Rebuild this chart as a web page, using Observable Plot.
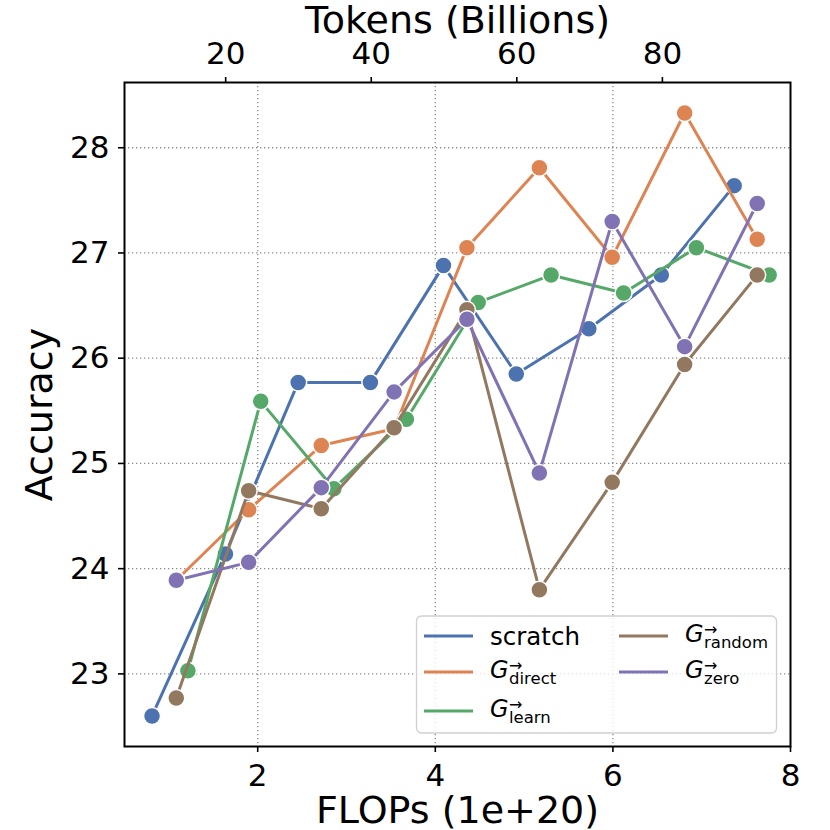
<!DOCTYPE html>
<html>
<head>
<meta charset="utf-8">
<script src="https://cdn.jsdelivr.net/npm/d3@7"></script>
<script src="https://cdn.jsdelivr.net/npm/@observablehq/plot@0.6"></script>
<style>
  html, body { margin: 0; padding: 0; background: white; }
  #chart svg { display: block; }
</style>
</head>
<body>
<div id="chart"></div>
<script>
// ---- data ----
const flopsScratch = [0.81, 1.637, 2.456, 3.269, 4.092, 4.912, 5.729, 6.545, 7.366];
const accScratch   = [22.60, 24.14, 25.77, 25.77, 26.88, 25.85, 26.28, 26.79, 27.64];

const flopsGrowth  = [1.083, 1.898, 2.716, 3.536, 4.356, 5.172, 5.992, 6.808, 7.625];
const accDirect    = [23.89, 24.56, 25.17, 25.33, 27.05, 27.81, 26.96, 28.33, 27.13];
const accRandom    = [22.77, 24.74, 24.57, 25.34, 26.46, 23.80, 24.82, 25.94, 26.79];
const accZero      = [23.89, 24.06, 24.77, 25.68, 26.37, 24.91, 27.30, 26.11, 27.47];

const flopsLearn   = [1.214, 2.034, 2.858, 3.675, 4.483, 5.304, 6.120, 6.940, 7.760];
const accLearn     = [23.03, 25.59, 24.76, 25.42, 26.53, 26.79, 26.62, 27.05, 26.79];

const seriesKeys   = ["scratch", "direct", "learn", "random", "zero"];
const seriesColors = ["#4C72B0", "#DD8452", "#55A868", "#937860", "#8172B3"];

const xTicks = [2, 4, 6, 8];
const yTicks = [23, 24, 25, 26, 27, 28];
const tokenTicks = [20, 40, 60, 80];
const tokensPerFlop = 12.2;   // Tokens (Billions) per 1e20 FLOPs (top axis)

// ---- build table ----
const xs = [flopsScratch, flopsGrowth, flopsLearn, flopsGrowth, flopsGrowth];
const ys = [accScratch, accDirect, accLearn, accRandom, accZero];
const series = seriesKeys.map((k, i) => ({
  key: k, color: seriesColors[i],
  rows: xs[i].map((x, j) => ({x, y: ys[i][j], s: k}))
}));

const font = "DejaVu Sans";
const gridStyle = {stroke: "#8a8a8a", strokeOpacity: 1, strokeWidth: 1.3, strokeDasharray: "1.3,2.7"};

const marks = [
  Plot.gridX(xTicks.slice(0, 3), gridStyle),
  Plot.gridY(yTicks, gridStyle),
  Plot.axisX(xTicks, {anchor: "bottom", tickSize: 6, tickPadding: 11, fontSize: 31, strokeWidth: 1.6, label: null, tickFormat: "d"}),
  Plot.axisX(tokenTicks.map(t => t / tokensPerFlop), {anchor: "top", tickSize: 6, tickPadding: 13, fontSize: 31, strokeWidth: 1.6, label: null,
    tickFormat: d => String(Math.round(d * tokensPerFlop))}),
  Plot.axisY(yTicks, {anchor: "left", tickSize: 6, tickPadding: 9, fontSize: 31, strokeWidth: 1.6, label: null, tickFormat: "d"}),
  Plot.text(["FLOPs (1e+20)"], {frameAnchor: "bottom", textAnchor: "middle", dy: 76, fontSize: 38, fill: "black"}),
  Plot.text(["Tokens (Billions)"], {frameAnchor: "top", textAnchor: "middle", dy: -76, fontSize: 38, fill: "black"}),
  Plot.text(["Accuracy"], {frameAnchor: "left", textAnchor: "middle", dx: -85, rotate: -90, fontSize: 38, fill: "black"})
];
for (const s of series) {
  marks.push(Plot.line(s.rows, {x: "x", y: "y", stroke: s.color, strokeWidth: 3}));
  marks.push(Plot.dot(s.rows, {x: "x", y: "y", fill: s.color, r: 8.5, stroke: "white", strokeWidth: 1.5}));
}
marks.push(Plot.frame({stroke: "black", strokeWidth: 2}));

const chart = Plot.plot({
  width: 830, height: 830,
  marginLeft: 124, marginRight: 40, marginTop: 82, marginBottom: 84,
  style: {fontFamily: font, color: "black", background: "white", overflow: "visible"},
  x: {type: "linear", domain: [0.5, 8]},
  y: {type: "linear", domain: [22.31, 28.62]},
  marks
});
document.getElementById("chart").append(chart);

// ---- legend (drawn inside the plot, lower right) ----
const svg = d3.select(chart);
const lg = svg.append("g").attr("font-family", font).attr("text-anchor", "start");
lg.append("rect").attr("x", 416.5).attr("y", 616).attr("width", 360).attr("height", 117)
  .attr("rx", 5).attr("fill", "white").attr("fill-opacity", 0.8)
  .attr("stroke", "#d0d0d0").attr("stroke-width", 1.3);

const legendSubs = {direct: "direct", learn: "learn", random: "random", zero: "zero"};
const slots = [
  {key: "scratch", col: 0, row: 0},
  {key: "direct", col: 0, row: 1},
  {key: "learn", col: 0, row: 2},
  {key: "random", col: 1, row: 0},
  {key: "zero", col: 1, row: 1}
];
const rowY = [636, 672, 711];
const colX = [424, 619];
const textX = [490, 685];
for (const sl of slots) {
  const color = seriesColors[seriesKeys.indexOf(sl.key)];
  const hy = rowY[sl.row];
  lg.append("line").attr("x1", colX[sl.col]).attr("x2", colX[sl.col] + 49)
    .attr("y1", hy).attr("y2", hy).attr("stroke", color).attr("stroke-width", 3);
  const tx = textX[sl.col];
  if (sl.key === "scratch") {
    lg.append("text").attr("x", tx).attr("y", hy + 9).attr("font-size", 24.5).attr("fill", "black").text("scratch");
  } else {
    const base = hy + 5.5;
    const t = lg.append("text").attr("x", tx).attr("y", base).attr("fill", "black");
    t.append("tspan").attr("font-size", 24).attr("font-style", "oblique").text("G");
    t.append("tspan").attr("font-size", 16).attr("dx", 0.5).attr("dy", -7).text("→");
    t.append("tspan").attr("font-size", 16.5).attr("dx", -13.5).attr("dy", 13.5).text(legendSubs[sl.key]);
  }
}
</script>
</body>
</html>
